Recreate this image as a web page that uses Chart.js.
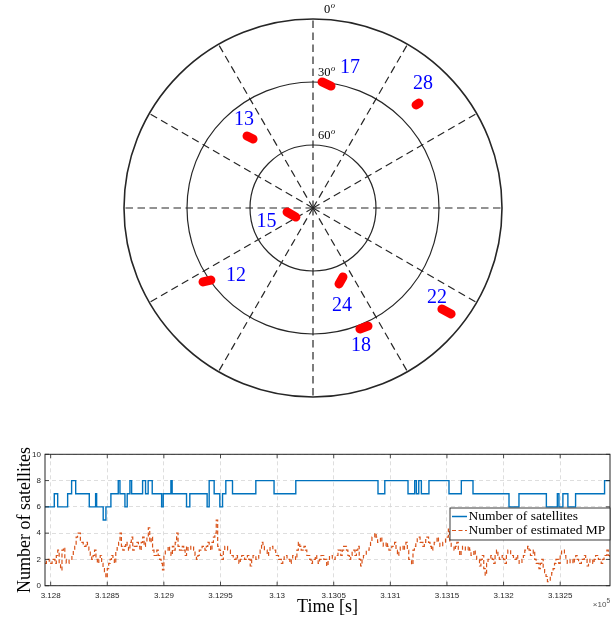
<!DOCTYPE html>
<html>
<head>
<meta charset="utf-8">
<script src="https://cdn.jsdelivr.net/npm/chart.js@4/dist/chart.umd.min.js"></script>
<style>
  html, body { margin: 0; padding: 0; background: #fff; }
  #wrap { position: relative; width: 616px; height: 620px; }
  #sky { position: absolute; left: 0; top: 0; width: 616px; height: 430px; }
  #ts { position: absolute; left: 0; top: 430px; width: 616px; height: 190px; }
</style>
</head>
<body>
<div id="wrap">
  <canvas id="sky" width="616" height="430"></canvas>
  <canvas id="ts" width="616" height="190"></canvas>
</div>
<script>
// ---------- Sky plot data: satellite tracks (azimuth / elevation, degrees) ----------
const prn = ['17', '28', '13', '15', '12', '24', '18', '22'];
const trackAz = [[4.1, 8.4], [45, 45.3], [317.5, 319], [261.3, 242.1], [236.1, 234.8], [156.5, 161.1], [158.8, 155], [128.1, 127.5]];
const trackEl = [[29.8, 31.3], [20.6, 19], [43.5, 46.5], [77.5, 80.8], [26.9, 30.5], [54.2, 51.8], [28.2, 28], [12, 7.1]];
const elevRings = [60, 30, 0];
const elevRingLabels = ['60', '30', '0'];
const azSpokes = [0, 30, 60, 90, 120, 150, 180, 210, 240, 270, 300, 330];

// ---------- Time series data ----------
// satellite count: value holds from each change time until the next one
const satTimes = [312795.0, 312803.2, 312806.2, 312815.0, 312818.5, 312822.1, 312834.1, 312839.7, 312840.6, 312846.4,
  312848.8, 312853.2, 312859.7, 312861.2, 312865.6, 312867.6, 312870.0, 312871.5, 312881.2, 312883.8,
  312886.1, 312889.7, 312898.0, 312899.4, 312906.2, 312907.3, 312920.0, 312922.9, 312938.2, 312940.0,
  312944.4, 312949.4, 312951.8, 312954.7, 312960.6, 312981.2, 312997.3, 313016.5, 313089.1, 313095.1,
  313115.6, 313121.5, 313123.0, 313125.1, 313127.4, 313134.1, 313151.8, 313162.7, 313173.0, 313204.8,
  313213.6, 313237.8, 313247.5, 313248.9, 313252.4, 313256.8, 313263.6, 313289.2, 313294.0];
const satCounts = [6, 7, 6, 7, 8, 7, 6, 7, 6, 5,
  6, 7, 8, 7, 6, 7, 8, 7, 8, 7,
  8, 7, 6, 7, 8, 7, 6, 7, 6, 8,
  7, 6, 7, 8, 7, 8, 7, 8, 7, 8,
  7, 8, 7, 8, 7, 8, 7, 8, 7, 6,
  7, 6, 7, 6, 7, 6, 7, 8, 8];

// estimated multipath count, sampled every mpStep seconds from mpStart
const mpStart = 312795;
const mpStep = 1.25;
const mpValues = [
  1.7, 2, 2, 1.7, 1.7, 2, 2, 1.7, 2.3, 2.7, 1.7, 1.2, 2.7, 2.9, 2, 1.7, 1.7, 2, 2, 2.3,
  2.7, 3, 3.7, 4, 4, 3.3, 3.3, 3, 3, 3.3, 3, 2.7, 2.3, 2, 2.3, 2.7, 2, 1.7, 2, 2.3,
  1.7, 1.3, 1, 0.6, 1.3, 1.7, 2, 2.3, 2, 1.7, 2.7, 3, 3.3, 4, 3, 2.7, 3, 3.3, 3, 2.7,
  3.3, 3.7, 2.7, 3, 3, 3.3, 3, 2.7, 3.3, 3.7, 3, 3.3, 3.7, 4.4, 3.3, 3.7, 2.7, 2.3, 2.3, 2.7,
  2.3, 2, 1.7, 1.2, 2.3, 2.7, 2.7, 3, 2.7, 2.3, 3, 2.7, 3.3, 4, 3, 2.7, 2.7, 3, 2.7, 2.3,
  3, 2.7, 2.7, 3, 3, 2.7, 2.3, 2, 2.3, 2.7, 2.7, 3, 3, 2.7, 3, 3.3, 3, 2.7, 3.3, 3.7,
  4, 5, 3, 2.7, 2.3, 2, 2.7, 3, 3, 2.7, 2.7, 2.3, 2.3, 2, 2, 2.3, 2, 1.7, 2, 2.3,
  2.3, 2, 2, 2.3, 2, 1.5, 2, 2.3, 2.3, 2, 2, 2.3, 2.7, 3.3, 3, 2.7, 2.7, 2.3, 2.7, 3,
  3, 2.7, 2.7, 2.3, 2.3, 2, 2, 1.7, 2, 2.3, 2.3, 2, 2, 1.7, 2, 2.3, 2.3, 2, 2.7, 3.3,
  3, 2.7, 2.7, 3, 2.7, 2.3, 2.3, 2, 1.7, 2, 2, 2.3, 2, 1.7, 2, 2.3, 2.3, 2, 2, 1.5,
  2, 2.3, 2.3, 2, 2, 2.3, 2.3, 2.7, 2.7, 2.3, 2.7, 3, 3, 2.7, 2.3, 2, 2.3, 2.7, 2.7, 2.3,
  2.7, 3, 2, 1.5, 2, 2.3, 2.3, 2.7, 2.7, 3, 3.3, 3.7, 3.7, 4, 3.7, 3.3, 3.3, 3.7, 3.3, 3,
  3, 3.3, 3, 2.7, 2.7, 3, 3, 3.3, 2.7, 2.3, 2.7, 3, 3, 2.7, 3, 3.3, 2.7, 2, 2, 1.6,
  2.7, 3, 3.3, 3.7, 3.7, 3.3, 3.3, 3, 3.3, 3.7, 3.7, 3.3, 3, 2.7, 3, 3.3, 3.3, 3.7, 3.3, 3,
  3, 3.3, 3.3, 3.7, 3.7, 4.3, 3.3, 3, 3, 2.7, 3, 3.3, 2.7, 2.3, 2.7, 3, 3, 2.7, 2.7, 3,
  2.7, 2.3, 2.3, 2.7, 2.3, 2, 2, 1.5, 2, 2.3, 1.3, 0.8, 1.7, 2, 2, 2.3, 2, 1.7, 2.3, 2.7,
  2.3, 2, 2, 2.3, 2, 1.7, 2.3, 2.7, 2.7, 2.3, 2.3, 2, 2, 2.3, 2, 1.7, 1.7, 2, 2.3, 2.7,
  2.7, 3, 2.7, 2.3, 2.3, 2.7, 2, 1.7, 1.7, 1.3, 1.7, 2, 1.3, 1, 0.7, 0.3, 0.3, 0.7, 1, 1.3,
  1.7, 2, 2, 1.7, 2.3, 2.7, 2.7, 2.3, 2, 1.7, 1.7, 2, 2, 1.7, 2, 2.3, 2, 1.7, 1.7, 2,
  2, 2.3, 2, 1.5, 1.7, 2, 2, 1.7, 2, 2.3, 2.3, 2, 2, 1.7, 2, 2.3, 2.3, 2.7, 2.3, 2];

const timeMin = 312795;
const timeMax = 313294;
const timeTicks = [312800, 312850, 312900, 312950, 313000, 313050, 313100, 313150, 313200, 313250];
const countTicks = [0, 2, 4, 6, 8, 10];
const seriesNames = ['Number of satellites', 'Number of estimated MP'];

// ---------- styles ----------
const AXIS_INK = '#262626';
const SERIF = '"Liberation Serif", "DejaVu Serif", serif';
const SANS = '"Liberation Sans", Arial, sans-serif';
const labelDx = [23.5, 5.5, -6, -25, 29, 1, -3, -9.5];
const labelDy = [-16, -20, -17.5, 7, -5, 25.5, 18.5, -13.5];

// polar projection: radius = 90 - elevation, azimuth clockwise from north
function toXY(az, el) {
  const r = 90 - el;
  const a = az * Math.PI / 180;
  return { x: r * Math.sin(a), y: r * Math.cos(a) };
}

const skyDatasets = prn.map((id, i) => ({
  label: id,
  data: trackAz[i].map((az, k) => toXY(az, trackEl[i][k])),
  showLine: true,
  borderColor: '#ff0000',
  backgroundColor: '#ff0000',
  borderWidth: 9,
  borderCapStyle: 'round',
  borderJoinStyle: 'round',
  pointRadius: 0
}));

const skyGrid = {
  id: 'skyGrid',
  beforeDatasetsDraw(chart) {
    const { ctx } = chart;
    const xs = chart.scales.x, ys = chart.scales.y;
    const cx = xs.getPixelForValue(0), cy = ys.getPixelForValue(0);
    ctx.save();
    ctx.strokeStyle = AXIS_INK;
    // dashed azimuth spokes
    ctx.lineWidth = 1.2;
    ctx.setLineDash([7.5, 4.5]);
    azSpokes.forEach(az => {
      const p = toXY(az, 0);
      ctx.beginPath();
      ctx.moveTo(cx, cy);
      ctx.lineTo(xs.getPixelForValue(p.x), ys.getPixelForValue(p.y));
      ctx.stroke();
    });
    // elevation rings
    ctx.setLineDash([]);
    elevRings.forEach(el => {
      const r = xs.getPixelForValue(90 - el) - cx;
      ctx.lineWidth = el === 0 ? 1.6 : 1.2;
      ctx.beginPath();
      ctx.arc(cx, cy, r, 0, Math.PI * 2);
      ctx.stroke();
    });
    // ring labels with degree mark
    ctx.fillStyle = '#000';
    ctx.textBaseline = 'middle';
    ctx.textAlign = 'left';
    elevRings.forEach((el, i) => {
      const top = ys.getPixelForValue(90 - el);
      const x0 = cx + (el === 0 ? 11 : 5);
      const y0 = top - 9;
      ctx.font = '12.5px ' + SERIF;
      const t = elevRingLabels[i];
      ctx.fillText(t, x0, y0);
      const w = ctx.measureText(t).width;
      ctx.font = 'italic 8.5px ' + SERIF;
      ctx.fillText('o', x0 + w + 0.5, y0 - 4);
    });
    ctx.restore();
  },
  afterDatasetsDraw(chart) {
    const { ctx } = chart;
    const xs = chart.scales.x, ys = chart.scales.y;
    ctx.save();
    ctx.fillStyle = '#0000ff';
    ctx.font = '20px ' + SERIF;
    ctx.textAlign = 'center';
    ctx.textBaseline = 'middle';
    prn.forEach((id, i) => {
      const pts = chart.data.datasets[i].data;
      const a = pts[0], b = pts[pts.length - 1];
      const mx = (xs.getPixelForValue(a.x) + xs.getPixelForValue(b.x)) / 2;
      const my = (ys.getPixelForValue(a.y) + ys.getPixelForValue(b.y)) / 2;
      ctx.fillText(id, mx + labelDx[i], my + labelDy[i]);
    });
    ctx.restore();
  }
};

new Chart(document.getElementById('sky'), {
  type: 'scatter',
  data: { datasets: skyDatasets },
  options: {
    responsive: false,
    animation: false,
    layout: { padding: { left: 124, right: 114, top: 19, bottom: 33 } },
    plugins: { legend: { display: false }, tooltip: { enabled: false } },
    scales: {
      x: { type: 'linear', min: -90, max: 90, display: false },
      y: { type: 'linear', min: -90, max: 90, display: false }
    }
  },
  plugins: [skyGrid]
});

// ---------- time series ----------
const satData = satTimes.map((t, i) => ({ x: t, y: satCounts[i] }));
const mpData = mpValues.map((v, i) => ({ x: mpStart + i * mpStep, y: v }));
const seriesColors = ['#0072BD', '#D95319'];

const tsFrame = {
  id: 'tsFrame',
  afterDraw(chart) {
    const { ctx, chartArea: ca } = chart;
    const xs = chart.scales.x, ys = chart.scales.y;
    ctx.save();
    // inward tick marks on all four sides
    ctx.strokeStyle = AXIS_INK;
    ctx.lineWidth = 0.8;
    xs.ticks.forEach(t => {
      const px = xs.getPixelForValue(t.value);
      ctx.beginPath();
      ctx.moveTo(px, ca.bottom); ctx.lineTo(px, ca.bottom - 4);
      ctx.moveTo(px, ca.top); ctx.lineTo(px, ca.top + 4);
      ctx.stroke();
    });
    ys.ticks.forEach(t => {
      const py = ys.getPixelForValue(t.value);
      ctx.beginPath();
      ctx.moveTo(ca.left, py); ctx.lineTo(ca.left + 4, py);
      ctx.moveTo(ca.right, py); ctx.lineTo(ca.right - 4, py);
      ctx.stroke();
    });
    // box
    ctx.lineWidth = 1;
    ctx.strokeRect(ca.left, ca.top, ca.right - ca.left, ca.bottom - ca.top);

    // legend
    const lx = 450, ly = 78, lw = ca.right - lx, lh = 32;
    ctx.fillStyle = '#fff';
    ctx.fillRect(lx, ly, lw, lh);
    ctx.strokeStyle = AXIS_INK;
    ctx.lineWidth = 0.9;
    ctx.strokeRect(lx, ly, lw, lh);
    ctx.font = '13.5px ' + SERIF;
    ctx.textAlign = 'left';
    ctx.textBaseline = 'middle';
    seriesNames.forEach((name, i) => {
      const ry = ly + 8.5 + i * 14;
      ctx.strokeStyle = seriesColors[i];
      ctx.lineWidth = i === 0 ? 1.5 : 1.2;
      ctx.setLineDash(i === 0 ? [] : [4, 2.5]);
      ctx.beginPath();
      ctx.moveTo(lx + 2, ry); ctx.lineTo(lx + 17, ry);
      ctx.stroke();
      ctx.setLineDash([]);
      ctx.fillStyle = '#000';
      ctx.fillText(name, lx + 18.5, ry);
    });

    // exponent label for the time axis
    ctx.fillStyle = '#505050';
    ctx.textAlign = 'right';
    ctx.font = '6.5px ' + SANS;
    ctx.fillText('5', ca.right, 171);
    const w5 = ctx.measureText('5').width;
    ctx.font = '8px ' + SANS;
    ctx.fillText('\u00d710', ca.right - w5, 175);
    ctx.restore();
  }
};

new Chart(document.getElementById('ts'), {
  type: 'line',
  data: {
    datasets: [
      {
        label: seriesNames[0],
        data: satData,
        stepped: 'before',
        borderColor: seriesColors[0],
        borderWidth: 1.4,
        pointRadius: 0,
        fill: false
      },
      {
        label: seriesNames[1],
        data: mpData,
        stepped: 'before',
        borderColor: seriesColors[1],
        borderWidth: 1.2,
        borderDash: [4, 2.5],
        pointRadius: 0,
        fill: false
      }
    ]
  },
  options: {
    responsive: false,
    animation: false,
    layout: { padding: { left: 0, right: 6, top: 24.3, bottom: 0 } },
    plugins: { legend: { display: false }, tooltip: { enabled: false } },
    scales: {
      x: {
        type: 'linear',
        min: timeMin,
        max: timeMax,
        afterFit(scale) { scale.height = 34.3; },
        afterBuildTicks(scale) { scale.ticks = timeTicks.map(v => ({ value: v })); },
        ticks: {
          autoSkip: false,
          maxRotation: 0,
          padding: 5,
          color: AXIS_INK,
          font: { family: SANS, size: 8 },
          callback: v => String(parseFloat((v / 1e5).toFixed(4)))
        },
        grid: { color: '#d6d6d6', lineWidth: 0.8, drawTicks: false },
        border: { display: false, dash: [4, 3] },
        title: {
          display: true,
          text: 'Time [s]',
          color: '#000',
          font: { family: SERIF, size: 18 },
          padding: { top: 0, bottom: 2 }
        }
      },
      y: {
        type: 'linear',
        min: countTicks[0],
        max: countTicks[countTicks.length - 1],
        afterFit(scale) { scale.width = 45; },
        afterBuildTicks(scale) { scale.ticks = countTicks.map(v => ({ value: v })); },
        ticks: {
          padding: 4,
          color: AXIS_INK,
          font: { family: SANS, size: 8 }
        },
        grid: { color: '#d6d6d6', lineWidth: 0.8, drawTicks: false },
        border: { display: false, dash: [4, 3] },
        title: {
          display: true,
          text: 'Number of satellites',
          color: '#000',
          font: { family: SERIF, size: 18 },
          padding: { top: 14, bottom: 0 }
        }
      }
    }
  },
  plugins: [tsFrame]
});
</script>
</body>
</html>
